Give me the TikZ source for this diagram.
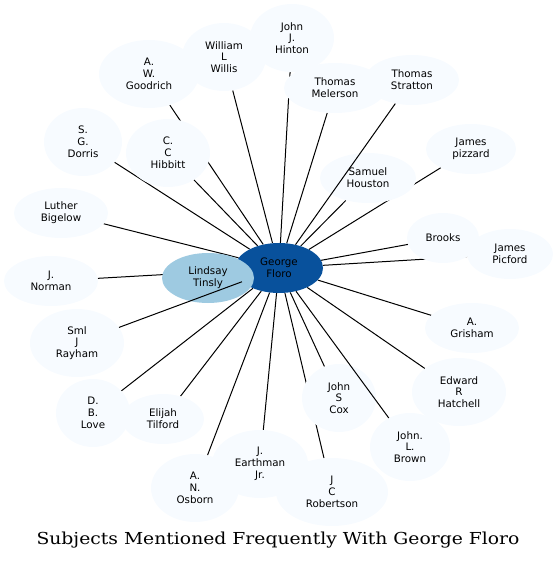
\documentclass[tikz,border=0pt]{standalone}
\usepackage{fontspec}
\usepackage{tikz}
\usetikzlibrary{shapes.geometric, backgrounds}
\newfontfamily\labelfont{DejaVu Sans}
\newfontfamily\titlefont{DejaVu Serif}
\definecolor{paleblue}{HTML}{F7FBFF}
\definecolor{midblue}{HTML}{9ECAE1}
\definecolor{deepblue}{HTML}{08519C}
\tikzset{
    person/.style={ellipse, fill=paleblue, inner sep=0pt, align=center, font=\labelfont\fontsize{10.3}{11.8}\selectfont},
    flat/.style={minimum height=50},
    tall/.style={minimum height=68},
    hub/.style={person, fill=deepblue},
    near/.style={person, fill=midblue},
    edge/.style={draw=black, line width=1pt}
}

\begin{document}
\begin{tikzpicture}[x=1pt, y=-1pt]
        \useasboundingbox (0,0) rectangle (557,561);

        % the subject in the middle, and the one name sitting on it
        \node[hub, flat, minimum width=88] (floro) at (279,268) {George\\Floro};
        \node[near, flat, minimum width=92] (tinsly) at (208,278) {Lindsay\\Tinsly};

        % upper half, left to right
        \node[person, flat, minimum width=94] (bigelow) at (61,213) {Luther\\Bigelow};
        \node[person, tall, minimum width=78] (dorris) at (83,142) {S.\\G.\\Dorris};
        \node[person, tall, minimum width=100] (goodrich) at (149,74) {A.\\W.\\Goodrich};
        \node[person, tall, minimum width=84] (hibbitt) at (168,153) {C.\\C\\Hibbitt};
        \node[person, tall, minimum width=84] (willis) at (224,57) {William\\L\\Willis};
        \node[person, tall, minimum width=84] (hinton) at (292,38) {John\\J.\\Hinton};
        \node[person, flat, minimum width=102] (melerson) at (335,88) {Thomas\\Melerson};
        \node[person, flat, minimum width=94] (stratton) at (412,80) {Thomas\\Stratton};
        \node[person, flat, minimum width=96] (houston) at (368,178) {Samuel\\Houston};
        \node[person, flat, minimum width=90] (pizzard) at (471,149) {James\\pizzard};
        \node[person, flat, minimum width=72] (brooks) at (443,238) {Brooks};
        \node[person, flat, minimum width=86] (picford) at (510,254) {James\\Picford};

        % lower half, right to left
        \node[person, flat, minimum width=94] (grisham) at (472,328) {A.\\Grisham};
        \node[person, tall, minimum width=94] (hatchell) at (459,392) {Edward\\R\\Hatchell};
        \node[person, tall, minimum width=80] (brown) at (410,447) {John.\\L.\\Brown};
        \node[person, tall, minimum width=74] (cox) at (339,398) {John\\S\\Cox};
        \node[person, tall, minimum width=96] (earthman) at (260,464) {J.\\Earthman\\Jr.};
        \node[person, tall, minimum width=112] (robertson) at (332,492) {J\\C\\Robertson};
        \node[person, tall, minimum width=88] (osborn) at (195,488) {A.\\N.\\Osborn};
        \node[person, flat, minimum width=82] (tilford) at (163,419) {Elijah\\Tilford};
        \node[person, tall, minimum width=74] (love) at (93,413) {D.\\B.\\Love};
        \node[person, tall, minimum width=94] (rayham) at (77,343) {Sml\\J\\Rayham};
        \node[person, flat, minimum width=94] (norman) at (51,281) {J.\\Norman};

        % most links go under the names
        \begin{pgfonlayer}{background}
            \foreach \who in {bigelow, dorris, goodrich, hibbitt, willis, hinton, melerson, houston, pizzard, brooks, picford, grisham, hatchell, cox, earthman, robertson, osborn, tilford, love, norman}
                \draw[edge] (floro) -- (\who);
        \end{pgfonlayer}
        % these three cross over other names
        \foreach \who in {rayham, stratton, brown}
            \draw[edge] (floro) -- (\who);

        \node[font=\titlefont\fontsize{16.5}{18}\selectfont, anchor=base] (caption) at (278,544) {\scalebox{1.137}[1]{Subjects Mentioned Frequently With George Floro}};

    \end{tikzpicture}
\end{document}
